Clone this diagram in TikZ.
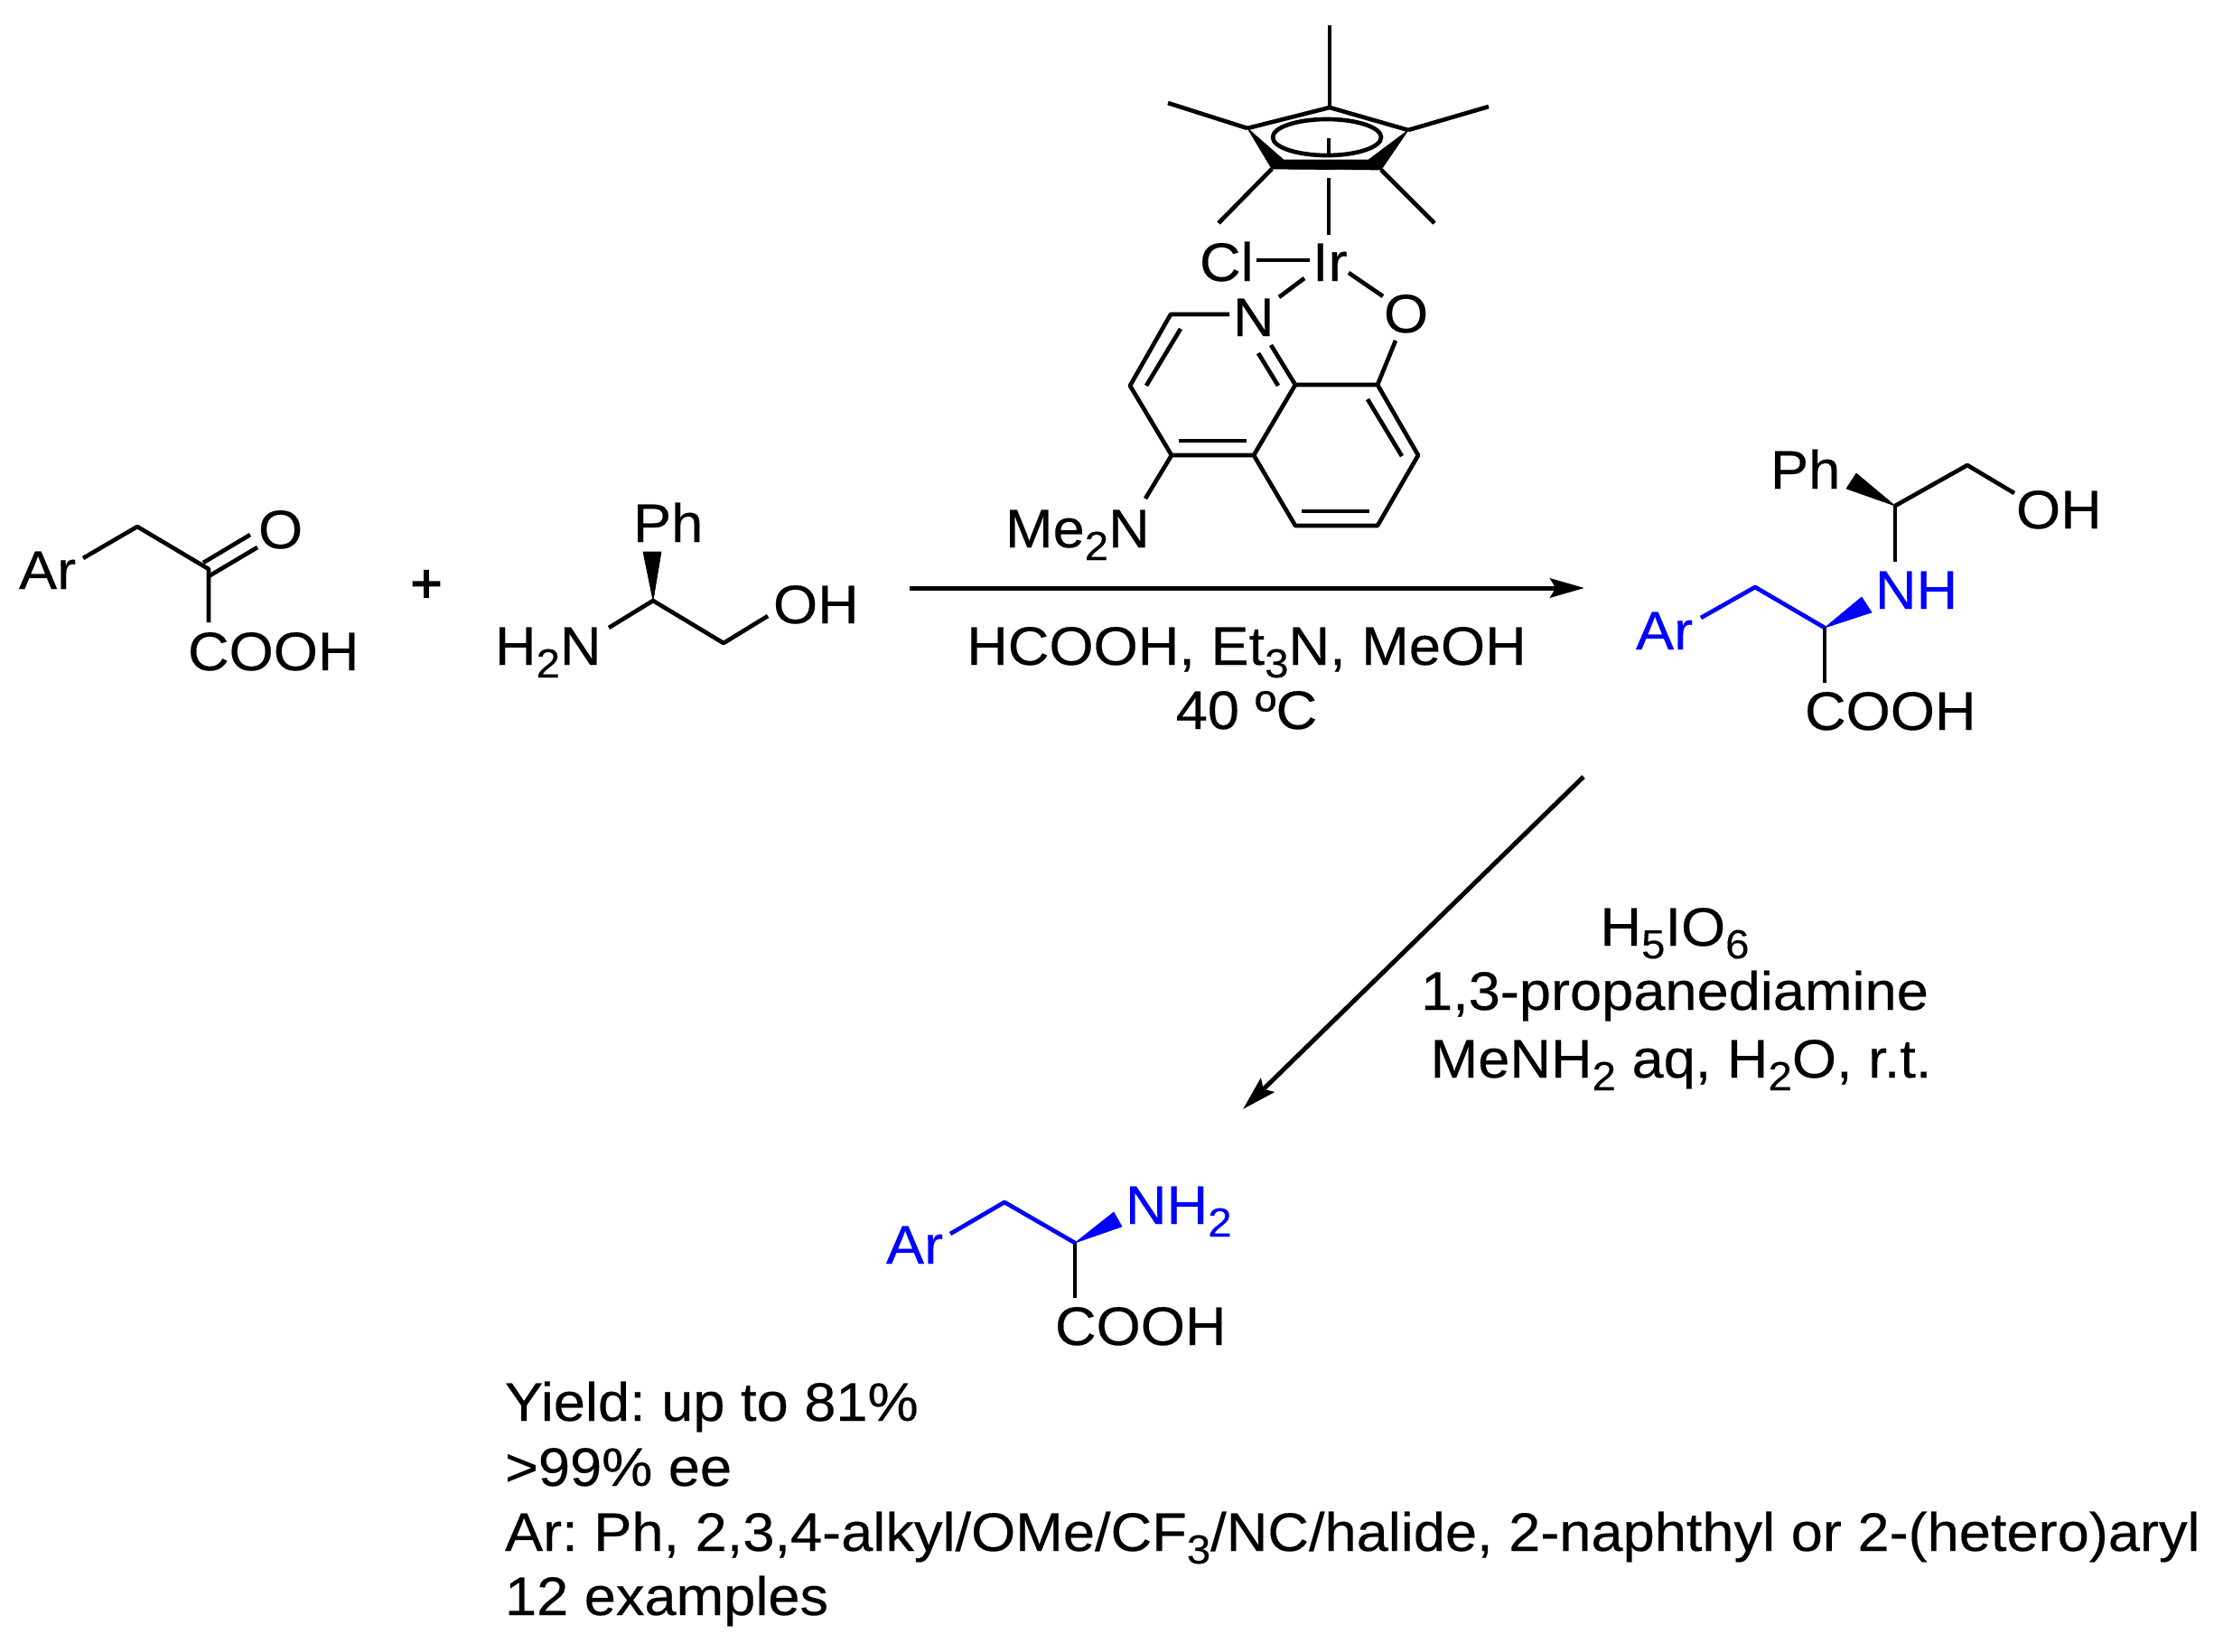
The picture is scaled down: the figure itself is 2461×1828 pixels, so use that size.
\documentclass[tikz,border=0pt]{standalone}
\usepackage{fontspec}
\setmainfont{Liberation Sans}[FakeStretch=1.053,FakeBold=0.3]
\newfontfamily\plusfont{Liberation Sans}[FakeBold=2.5]
\usetikzlibrary{arrows.meta}
\definecolor{pureblue}{RGB}{0,0,255}
\newcommand{\sbs}[1]{\raisebox{-4.2pt}{\fontsize{13.5}{14}\selectfont #1}}
\tikzset{
  bond/.style={line width=1.4pt,line cap=butt,line join=round},
  bluebond/.style={bond,pureblue},
  solidwedge/.style={fill=black,draw=black,line width=0.2pt,line join=round},
  bluewedge/.style={fill=pureblue,draw=pureblue,line width=0.2pt,line join=round},
  lbl/.style={inner sep=0pt,outer sep=0pt,anchor=base west,font=\fontsize{18}{20}\selectfont\frenchspacing},
  clbl/.style={lbl,anchor=base},
  bluelbl/.style={lbl,text=pureblue},
  rxnarrow/.style={line width=1.5pt,-{Stealth[length=11.4pt,width=6.4pt,inset=1.9pt]}},
}
\begin{document}
\begin{tikzpicture}[x=0.3pt,y=-0.3pt]
\fill[white] (0,0) rectangle (2461,1828);
\useasboundingbox (0,0) rectangle (2461,1828);

% ---------- Keto acid ----------
\node[lbl] (arA) at (21,652) {Ar};
\node[lbl] (oA) at (286,607) {O};
\node[lbl] (coohA) at (208,742) {COOH};
\coordinate (aEnd) at (92,618);
\coordinate (aCH) at (152,583);
\coordinate (aC) at (231,630);
\coordinate (aCOOHb) at (231,689);
\coordinate (aO1s) at (225,623);
\coordinate (aO1e) at (277,592);
\coordinate (aO2s) at (231,638);
\coordinate (aO2e) at (285,606);
\draw[bond] (aEnd) -- (aCH) -- (aC) -- (aCOOHb);
\draw[bond] (aO1s) -- (aO1e);
\draw[bond] (aO2s) -- (aO2e);

\node[inner sep=0pt,font=\fontsize{18}{20}\selectfont\plusfont] (plus) at (472,649) {+};

% ---------- Phenylglycinol ----------
\node[lbl] (phB) at (701,600) {Ph};
\node[lbl] (nhB) at (548,736) {H\sbs{2}N};
\node[lbl] (ohB) at (856,690) {OH};
\coordinate (bC) at (723,665);
\coordinate (bW1) at (712,611);
\coordinate (bW2) at (732,611);
\coordinate (bNe) at (674,695);
\coordinate (bCH) at (801,712);
\coordinate (bOe) at (850,682);
\fill[solidwedge] (bC) -- (bW1) -- (bW2) -- cycle;
\draw[bond] (bNe) -- (bC) -- (bCH) -- (bOe);

% ---------- Catalyst: Cp* ----------
\coordinate (cpT) at (1472,119);
\coordinate (cpL) at (1381,142);
\coordinate (cpR) at (1559,144);
\coordinate (cpBL) at (1408,187);
\coordinate (cpBR) at (1529,188);
\coordinate (cpIL) at (1421,177);
\coordinate (cpIR) at (1515,177);
\coordinate (meT) at (1472,28);
\coordinate (meL) at (1293,114);
\coordinate (meR) at (1648,118);
\coordinate (meBL) at (1349,247);
\coordinate (meBR) at (1588,247);
\fill[solidwedge] (cpL) -- (cpIL) -- (cpIR) -- (cpR) -- (cpBR) -- (cpBL) -- cycle;
\draw[bond] (cpL) -- (cpT) -- (cpR);
\draw[bond] (cpT) -- (meT);
\draw[bond] (cpL) -- (meL);
\draw[bond] (cpR) -- (meR);
\draw[bond] (cpBL) -- (meBL);
\draw[bond] (cpBR) -- (meBR);
\coordinate (cpE) at (1469,152);
\draw[bond] (cpE) ellipse [x radius=18pt,y radius=6pt];
\coordinate (ctA) at (1471,153);
\coordinate (ctB) at (1471,171);
\coordinate (ctC) at (1471,197);
\coordinate (ctD) at (1471,260);
\draw[bond] (ctA) -- (ctB);
\draw[bond] (ctC) -- (ctD);

% ---------- Catalyst: Ir and ligand ----------
\node[lbl] (cl) at (1328,311) {Cl};
\node[lbl] (ir) at (1453,311) {Ir};
\node[lbl] (nq) at (1365,372) {N};
\node[lbl] (oq) at (1532,368) {O};
\node[lbl] (nme) at (1113,606) {Me\sbs{2}N};
\coordinate (clA) at (1391,288);
\coordinate (clB) at (1450,288);
\coordinate (nA) at (1416,329);
\coordinate (nB) at (1444,308);
\coordinate (oA1) at (1493,302);
\coordinate (oB1) at (1531,328);
\draw[bond] (clA) -- (clB);
\draw[bond] (nA) -- (nB);
\draw[bond] (oA1) -- (oB1);
\coordinate (nE) at (1361,348);
\coordinate (c2) at (1296,348);
\coordinate (c3) at (1251,427);
\coordinate (c4) at (1297,504);
\coordinate (c4a) at (1388,504);
\coordinate (c8a) at (1434,426);
\coordinate (c8) at (1525,426);
\coordinate (c7) at (1570,504);
\coordinate (c6) at (1525,582);
\coordinate (c5) at (1434,582);
\coordinate (nF) at (1407,382);
\coordinate (oE) at (1545,377);
\coordinate (nmeE) at (1268,552);
\draw[bond] (nE) -- (c2) -- (c3) -- (c4) -- (c4a) -- (c8a) -- (c8) -- (c7) -- (c6) -- (c5) -- (c4a);
\draw[bond] (nF) -- (c8a);
\draw[bond] (c8) -- (oE);
\draw[bond] (c4) -- (nmeE);
\coordinate (d1a) at (1307,364);
\coordinate (d1b) at (1269,427);
\coordinate (d2a) at (1393,391);
\coordinate (d2b) at (1415,427);
\coordinate (d3a) at (1305,488);
\coordinate (d3b) at (1380,488);
\coordinate (d4a) at (1514,442);
\coordinate (d4b) at (1552,505);
\coordinate (d5a) at (1441,566);
\coordinate (d5b) at (1516,566);
\draw[bond] (d1a) -- (d1b);
\draw[bond] (d2a) -- (d2b);
\draw[bond] (d3a) -- (d3b);
\draw[bond] (d4a) -- (d4b);
\draw[bond] (d5a) -- (d5b);

% ---------- Arrow 1 ----------
\coordinate (a1s) at (1007,651);
\coordinate (a1e) at (1754,651);
\draw[rxnarrow] (a1s) -- (a1e);
\node[clbl] (cond1) at (1380,736) {HCOOH, Et\sbs{3}N, MeOH};
\node[clbl] (cond2) at (1380,807) {40 ºC};

% ---------- Product 1 ----------
\node[lbl] (phC) at (1960,541) {Ph};
\node[lbl] (ohC) at (2232,585) {OH};
\node[bluelbl] (nhC) at (2076,674) {NH};
\node[bluelbl] (arC) at (1811,719) {Ar};
\node[lbl] (coohC) at (1998,808) {COOH};
\coordinate (pC1) at (2098,560);
\coordinate (pW1) at (2055,524);
\coordinate (pW2) at (2044,541);
\coordinate (pCH) at (2178,515);
\coordinate (pOe) at (2230,546);
\coordinate (pNe) at (2098,622);
\coordinate (pC2) at (2020,695);
\coordinate (pW3) at (2061,661);
\coordinate (pW4) at (2072,678);
\coordinate (pCH2) at (1943,650);
\coordinate (pAr) at (1883,684);
\coordinate (pCe) at (2020,756);
\fill[solidwedge] (pC1) -- (pW1) -- (pW2) -- cycle;
\draw[bond] (pC1) -- (pCH) -- (pOe);
\draw[bond] (pC1) -- (pNe);
\fill[bluewedge] (pC2) -- (pW3) -- (pW4) -- cycle;
\draw[bluebond] (pAr) -- (pCH2) -- (pC2);
\draw[bond] (pC2) -- (pCe);

% ---------- Arrow 2 ----------
\coordinate (a2s) at (1753,860);
\coordinate (a2e) at (1376,1228);
\draw[rxnarrow] (a2s) -- (a2e);
\node[clbl] (cond3) at (1854,1047) {H\sbs{5}IO\sbs{6}};
\node[clbl] (cond4) at (1854,1118) {1,3-propanediamine};
\node[clbl] (cond5) at (1861,1193) {MeNH\sbs{2} aq, H\sbs{2}O, r.t.};

% ---------- Product 2 ----------
\node[bluelbl] (arD) at (981,1399) {Ar};
\node[bluelbl] (nhD) at (1246,1355) {NH\sbs{2}};
\node[lbl] (coohD) at (1168,1489) {COOH};
\coordinate (qAr) at (1052,1366);
\coordinate (qCH) at (1112,1331);
\coordinate (qC) at (1190,1376);
\coordinate (qW1) at (1233,1342);
\coordinate (qW2) at (1242,1358);
\coordinate (qCe) at (1190,1437);
\fill[bluewedge] (qC) -- (qW1) -- (qW2) -- cycle;
\draw[bluebond] (qAr) -- (qCH) -- (qC);
\draw[bond] (qC) -- (qCe);

% ---------- Summary ----------
\node[lbl] (s1) at (559,1573) {Yield: up to 81\%};
\node[lbl] (s2) at (559,1645) {>99\% ee};
\node[lbl] (s3) at (559,1717) {Ar: Ph, 2,3,4-alkyl/OMe/CF\sbs{3}/NC/halide, 2-naphthyl or 2-(hetero)aryl};
\node[lbl] (s4) at (559,1788) {12 examples};
\end{tikzpicture}
\end{document}
